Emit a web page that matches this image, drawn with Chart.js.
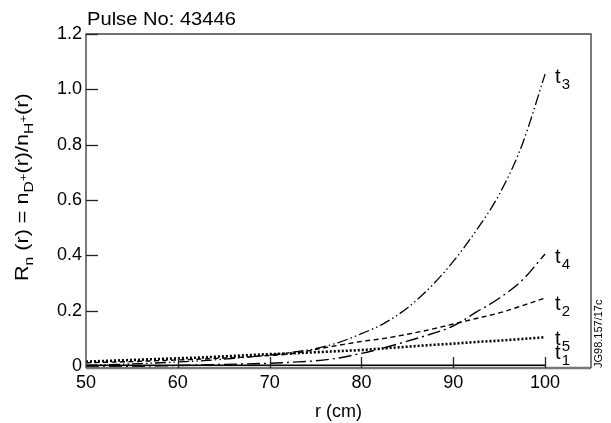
<!DOCTYPE html>
<html><head><meta charset="utf-8">
<script src="https://cdn.jsdelivr.net/npm/chart.js@4/dist/chart.umd.min.js"></script>
<style>html,body{margin:0;padding:0;background:#fff;}#wrap{width:611px;height:423px;position:relative;}</style>
</head><body><div id="wrap"><canvas id="c" width="611" height="423"></canvas></div>
<script>
const chartTitle = 'Pulse No: 43446';
const xTitle = 'r (cm)';
const sideNote = 'JG98.157/17c';
const radius = [50, 52.5, 55, 57.5, 60, 62.5, 65, 67.5, 70, 72.5, 75, 77.5, 80, 82.5, 85, 87.5, 90, 92.5, 95, 97.5, 100];
const t1 = [0.003, 0.003, 0.003, 0.003, 0.003, 0.003, 0.003, 0.003, 0.003, 0.003, 0.003, 0.003, 0.003, 0.003, 0.003, 0.003, 0.003, 0.003, 0.003, 0.003, 0.003];
const t2 = [0.012, 0.014, 0.016, 0.019, 0.022, 0.025, 0.029, 0.033, 0.038, 0.045, 0.060, 0.075, 0.089, 0.100, 0.115, 0.132, 0.152, 0.172, 0.192, 0.218, 0.246];
const t3 = [0.003, 0.005, 0.008, 0.011, 0.015, 0.019, 0.025, 0.032, 0.040, 0.050, 0.063, 0.085, 0.117, 0.155, 0.210, 0.285, 0.378, 0.490, 0.620, 0.800, 1.055];
const t4 = [-0.003, -0.002, -0.001, 0.000, 0.002, 0.004, 0.006, 0.008, 0.010, 0.014, 0.019, 0.029, 0.046, 0.066, 0.090, 0.115, 0.145, 0.195, 0.245, 0.310, 0.405];
const t5 = [0.016, 0.019, 0.022, 0.025, 0.028, 0.031, 0.035, 0.039, 0.043, 0.046, 0.050, 0.054, 0.058, 0.064, 0.070, 0.076, 0.081, 0.087, 0.092, 0.098, 0.104];
const xTicks = [50, 60, 70, 80, 90, 100];
const yTicks = [0, 0.2, 0.4, 0.6, 0.8, 1.0, 1.2];
const seriesSubs = ['1', '2', '3', '4', '5'];

const FONT = '"Liberation Sans", Arial, Helvetica, sans-serif';
const pts = arr => radius.map((r, i) => ({x: r, y: arr[i]}));

const series = [
  {sub: seriesSubs[0], data: t1, dash: [], width: 1.4, nudge: -6},
  {sub: seriesSubs[1], data: t2, dash: [5, 3.5], width: 1.4, nudge: 12},
  {sub: seriesSubs[2], data: t3, dash: [11, 3, 1.5, 3, 1.5, 3], width: 1.3, nudge: 9},
  {sub: seriesSubs[3], data: t4, dash: [13, 4, 2, 4], width: 1.4, nudge: 9},
  {sub: seriesSubs[4], data: t5, dash: [2, 2], width: 2.6, nudge: 8}
];

const decor = {
  id: 'decor',
  afterDraw(chart) {
    const {ctx, chartArea: a, scales} = chart;
    const xs = scales.x, ys = scales.y;
    ctx.save();
    // frame
    ctx.strokeStyle = '#444';
    ctx.lineWidth = 1.4;
    ctx.beginPath();
    ctx.moveTo(a.left, a.bottom); ctx.lineTo(a.left, a.top); ctx.lineTo(a.right, a.top); ctx.lineTo(a.right, a.bottom);
    ctx.stroke();
    ctx.strokeStyle = '#777';
    ctx.lineWidth = 2.6;
    ctx.beginPath(); ctx.moveTo(a.left, a.bottom); ctx.lineTo(a.right, a.bottom); ctx.stroke();
    // inward ticks
    ctx.strokeStyle = '#222';
    ctx.lineWidth = 1.3;
    yTicks.forEach(v => {
      const y = Math.round(ys.getPixelForValue(v)) + 0.5;
      ctx.beginPath(); ctx.moveTo(a.left, y); ctx.lineTo(a.left + 12, y); ctx.stroke();
    });
    xTicks.slice(1).forEach(v => {
      const x = Math.round(xs.getPixelForValue(v)) + 0.5;
      ctx.beginPath(); ctx.moveTo(x, a.bottom); ctx.lineTo(x, a.bottom - 11); ctx.stroke();
    });
    // title
    ctx.fillStyle = '#000';
    ctx.textAlign = 'left';
    ctx.textBaseline = 'alphabetic';
    ctx.save();
    ctx.translate(a.left + 1, a.top - 9);
    ctx.scale(1.06, 1);
    ctx.font = '19px ' + FONT;
    ctx.fillText(chartTitle, 0, 0);
    ctx.restore();
    // series labels
    series.forEach(s => {
      const x = xs.getPixelForValue(radius[radius.length - 1]) + 10;
      const y = ys.getPixelForValue(s.data[s.data.length - 1]) + s.nudge;
      ctx.font = '20px ' + FONT;
      ctx.fillText('t', x, y);
      const w = ctx.measureText('t').width;
      ctx.font = '15px ' + FONT;
      ctx.fillText(s.sub, x + w + 1, y + 6);
    });
    // y axis title with subscripts
    ctx.save();
    ctx.translate(28, 281);
    ctx.rotate(-Math.PI / 2);
    ctx.scale(1.2, 1);
    const parts = [
      ['R', 0, 18], ['n', 5, 13], [' (r) = n', 0, 18], ['D', 5, 13], ['+', -1, 11],
      ['(r)/n', 0, 18], ['H', 5, 13], ['+', -1, 11], ['(r)', 0, 18]
    ];
    let px = 0;
    parts.forEach(([txt, dy, size]) => {
      ctx.font = size + 'px ' + FONT;
      ctx.fillText(txt, px, dy);
      px += ctx.measureText(txt).width;
    });
    ctx.restore();
    // side note
    ctx.save();
    ctx.translate(602, a.bottom);
    ctx.rotate(-Math.PI / 2);
    ctx.font = '11px ' + FONT;
    ctx.fillStyle = '#000';
    ctx.fillText(sideNote, 0, 0);
    ctx.restore();
    ctx.restore();
  }
};

new Chart(document.getElementById('c'), {
  type: 'line',
  data: {
    datasets: series.map(s => ({
      label: 't' + s.sub,
      data: pts(s.data),
      borderColor: '#000',
      borderWidth: s.width,
      borderDash: s.dash,
      pointRadius: 0,
      fill: false,
      cubicInterpolationMode: 'monotone'
    }))
  },
  options: {
    responsive: false,
    animation: false,
    devicePixelRatio: 1,
    layout: {padding: {left: 0, top: 34, right: 20, bottom: 0}},
    plugins: {legend: {display: false}, tooltip: {enabled: false}, title: {display: false}},
    scales: {
      x: {
        type: 'linear', min: 50, max: 105,
        afterBuildTicks: s => { s.ticks = xTicks.map(v => ({value: v})); },
        afterFit: s => { s.height = 55; },
        grid: {display: false, drawTicks: false},
        border: {display: false},
        ticks: {font: {family: FONT, size: 18}, color: '#000', padding: 4, maxRotation: 0},
        title: {display: true, text: xTitle, font: {family: FONT, size: 18}, color: '#000', padding: {top: 4, bottom: 0}}
      },
      y: {
        type: 'linear', min: -0.007, max: 1.2,
        afterBuildTicks: s => { s.ticks = yTicks.map(v => ({value: v})); },
        afterFit: s => { s.width = 86; },
        grid: {display: false, drawTicks: false},
        border: {display: false},
        ticks: {font: {family: FONT, size: 18}, color: '#000', padding: 4,
          callback: v => v === 0 ? '0' : v.toFixed(1)}
      }
    }
  },
  plugins: [decor]
});
</script></body></html>
